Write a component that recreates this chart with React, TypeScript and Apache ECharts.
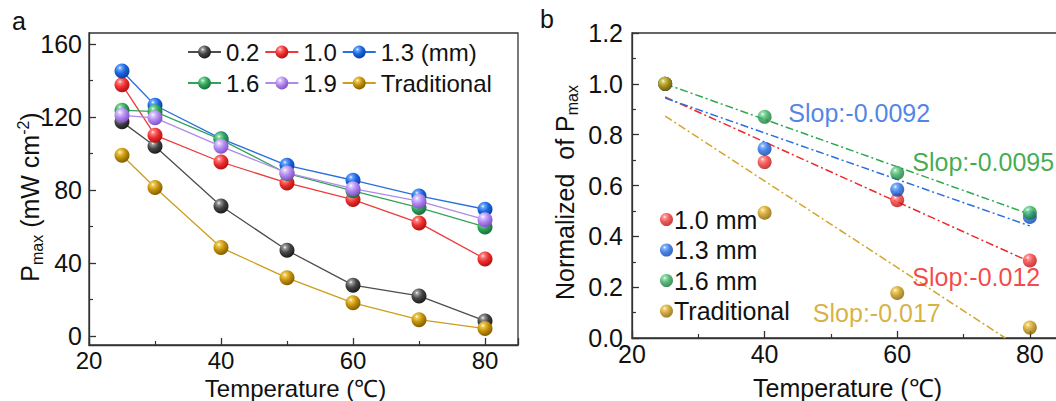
import React, { useEffect, useRef } from 'react';
import * as echarts from 'echarts';

// ---------- Panel a data ----------
const tempA = [25, 30, 40, 50, 60, 70, 80];
const namesA = ['0.2', '1.0', '1.3 (mm)', '1.6', '1.9', 'Traditional'];
const pmax02 = [117.3, 103.9, 71.2, 46.9, 27.8, 21.9, 8.2];
const pmax10 = [137.7, 110.0, 95.3, 83.8, 74.7, 61.9, 42.2];
const pmax13 = [145.2, 126.4, 108.1, 93.5, 85.3, 76.7, 69.4];
const pmax16 = [123.7, 122.9, 107.6, 89.0, 79.5, 70.3, 59.7];
const pmax19 = [120.9, 119.5, 103.9, 89.3, 80.7, 73.8, 63.7];
const pmaxTrad = [99.0, 81.3, 48.4, 31.8, 18.1, 8.9, 4.0];
const yTicksA = [0, 40, 80, 120, 160];
const yMinorTicksA = [20, 60, 100, 140];

// ---------- Panel b data ----------
const tempB = [25, 40, 60, 80];
const namesB = ['1.0 mm', '1.3 mm', '1.6 mm', 'Traditional '];
const norm10 = [1.0, 0.692, 0.542, 0.305];
const norm13 = [1.0, 0.745, 0.584, 0.476];
const norm16 = [1.0, 0.87, 0.649, 0.493];
const normTrad = [1.0, 0.493, 0.177, 0.041];
const fitX = [25, 80];
const fit10 = [0.948, 0.3];
const fit13 = [0.944, 0.441];
const fit16 = [1.0, 0.487];
const fitTradX = [25, 76.3];
const fitTrad = [0.873, 0];
const slopeText = ['Slop:-0.0092', 'Slop:-0.0095', 'Slop:-0.012', 'Slop:-0.017'];
const slopeX = [43.5, 62.2, 62.2, 47.2];
const slopeY = [0.884, 0.691, 0.239, 0.097];

// ---------- styles ----------
const FONT = 'Liberation Sans, Arial, Helvetica, sans-serif';
const FS = 25;
const TXT = '#111111';
const AX = '#333333';

type Pal = { base: string; light: string; dark: string; line: string };
const palGray: Pal = { base: '#444444', light: '#999999', dark: '#1a1a1a', line: '#4d4d4d' };
const palRed: Pal = { base: '#ee3030', light: '#ff8080', dark: '#b01010', line: '#ec3b3b' };
const palBlue: Pal = { base: '#1a66e0', light: '#6aa6ff', dark: '#0a3fa0', line: '#2a6fdc' };
const palGreen: Pal = { base: '#2fa458', light: '#7ad898', dark: '#176f36', line: '#34a35a' };
const palPurple: Pal = { base: '#b088ee', light: '#dcc6ff', dark: '#8050c8', line: '#b08ae8' };
const palGold: Pal = { base: '#c4920a', light: '#f0c850', dark: '#805c00', line: '#cf9d1a' };
const palA = [palGray, palRed, palBlue, palGreen, palPurple, palGold];
const palB = [palRed, palBlue, palGreen, palGold];
const fitColors = ['#ee2a2a', '#2b6fe0', '#2fa84f', '#d4a52a'];
const slopeColors = ['#1f66e0', '#12961f', '#f01818', '#cc9e10'];

function ball(p: Pal) {
  return new echarts.graphic.RadialGradient(0.36, 0.3, 0.72, [
    { offset: 0, color: '#ffffff' },
    { offset: 0.16, color: p.light },
    { offset: 0.52, color: p.base },
    { offset: 1, color: p.dark },
  ]);
}

export default function App() {
  const ref = useRef<HTMLDivElement>(null);
  useEffect(() => {
    if (!ref.current) return;
    const chart = echarts.init(ref.current, undefined, { renderer: 'svg' });
    const valsA = [pmax02, pmax10, pmax13, pmax16, pmax19, pmaxTrad];
    const valsB = [norm10, norm13, norm16, normTrad];
    const fits = [
      { x: fitX, y: fit10 },
      { x: fitX, y: fit13 },
      { x: fitX, y: fit16 },
      { x: fitTradX, y: fitTrad },
    ];

    const tickLabel = { fontSize: FS, lineHeight: 22, color: TXT, fontFamily: FONT, showMaxLabel: false };
    const axisLine = { show: true, onZero: false, lineStyle: { color: AX, width: 1.3 } };

    const seriesA = namesA.map((n, i) => ({
      type: 'line',
      name: n,
      xAxisIndex: 0,
      yAxisIndex: 0,
      data: tempA.map((t, k) => [t, valsA[i][k]]),
      symbol: 'circle',
      symbolSize: 15,
      lineStyle: { color: palA[i].line, width: 1.3 },
      itemStyle: { color: ball(palA[i]) },
      z: 3 + i,
    }));

    const fitSeries = fits.map((f, i) => ({
      type: 'line',
      name: 'fit' + i,
      xAxisIndex: 1,
      yAxisIndex: 2,
      data: f.x.map((x, k) => [x, f.y[k]]),
      symbol: 'none',
      silent: true,
      lineStyle: { color: fitColors[i], width: 1.5, type: [8, 3, 2, 3] },
      z: 2,
    }));

    const seriesB = namesB.map((n, i) => ({
      type: 'scatter',
      name: n,
      xAxisIndex: 1,
      yAxisIndex: 2,
      data: tempB.map((t, k) => [t, valsB[i][k]]),
      symbol: 'circle',
      symbolSize: 14,
      itemStyle: { color: ball(palB[i]) },
      z: 4 + i,
    }));

    const slopeSeries = {
      type: 'scatter',
      name: 'slopes',
      xAxisIndex: 1,
      yAxisIndex: 2,
      silent: true,
      symbolSize: 1,
      itemStyle: { color: 'rgba(0,0,0,0)' },
      data: slopeX.map((x, i) => ({
        value: [x, slopeY[i]],
        label: {
          show: true,
          position: 'right',
          distance: 0,
          formatter: slopeText[i],
          color: slopeColors[i],
          fontSize: FS,
          fontFamily: FONT,
        },
      })),
      z: 10,
    };

    const option: any = {
      animation: false,
      textStyle: { fontFamily: FONT },
      grid: [
        { left: 89, top: 33, width: 429, height: 312, outerBoundsMode: 'none', containLabel: false, show: true, borderColor: AX, borderWidth: 1.3, backgroundColor: 'transparent' },
        { left: 632, top: 33, width: 431, height: 305, outerBoundsMode: 'none', containLabel: false, show: true, borderColor: AX, borderWidth: 1.3, backgroundColor: 'transparent' },
      ],
      xAxis: [
        {
          type: 'value', gridIndex: 0, min: 20, max: 85, interval: 20,
          axisLine, splitLine: { show: false },
          axisTick: { show: true, inside: true, length: 7, lineStyle: { color: AX, width: 1.3 } },
          minorTick: { show: true, splitNumber: 2, length: 4, lineStyle: { color: AX, width: 1.2 } },
          axisLabel: { ...tickLabel, fontSize: 24, margin: 4 },
          name: 'Temperature (℃)', nameLocation: 'middle', nameGap: 32, nameMoveOverlap: false,
          nameTextStyle: { fontSize: 24, lineHeight: 22, color: TXT, fontFamily: FONT, padding: [0, 16, 0, 0] },
        },
        {
          type: 'value', gridIndex: 1, min: 20, max: 85, interval: 20,
          axisLine, splitLine: { show: false },
          axisTick: { show: true, inside: true, length: 7, lineStyle: { color: AX, width: 1.3 } },
          minorTick: { show: true, splitNumber: 2, length: 4, lineStyle: { color: AX, width: 1.2 } },
          axisLabel: { ...tickLabel, margin: 5 },
          name: 'Temperature (℃)', nameLocation: 'middle', nameGap: 39, nameMoveOverlap: false,
          nameTextStyle: { fontSize: FS, lineHeight: 22, color: TXT, fontFamily: FONT },
        },
      ],
      yAxis: [
        {
          type: 'value', gridIndex: 0, position: 'left', min: -5, max: 166,
          axisLine, splitLine: { show: false },
          axisTick: { show: true, inside: true, length: 7, customValues: yTicksA, lineStyle: { color: AX, width: 1.3 } },
          axisLabel: { fontSize: FS, color: TXT, fontFamily: FONT, margin: 7, customValues: yTicksA },
          name: '{n|P}{s|max}{n| (mW cm}{p|-2}{n|)}',
          nameLocation: 'middle', nameGap: 44, nameRotate: 90, nameMoveOverlap: false,
          nameTextStyle: {
            fontSize: FS, color: TXT, fontFamily: FONT, padding: [0, 16, 0, 0],
            rich: {
              n: { fontSize: FS, lineHeight: 30, color: TXT, fontFamily: FONT },
              s: { fontSize: 16, lineHeight: 16, verticalAlign: 'bottom', color: TXT, fontFamily: FONT },
              p: { fontSize: 16, lineHeight: 16, verticalAlign: 'top', color: TXT, fontFamily: FONT },
            },
          },
        },
        {
          type: 'value', gridIndex: 0, position: 'left', min: -5, max: 166,
          axisLine: { show: false, onZero: false }, splitLine: { show: false },
          axisTick: { show: true, inside: true, length: 4, customValues: yMinorTicksA, lineStyle: { color: AX, width: 1.2 } },
          axisLabel: { show: false },
        },
        {
          type: 'value', gridIndex: 1, position: 'left', min: 0, max: 1.2, interval: 0.2,
          axisLine, splitLine: { show: false },
          axisTick: { show: true, inside: true, length: 7, lineStyle: { color: AX, width: 1.3 } },
          minorTick: { show: true, splitNumber: 2, length: 4, lineStyle: { color: AX, width: 1.2 } },
          axisLabel: { fontSize: FS, color: TXT, fontFamily: FONT, margin: 9, formatter: (v: number) => v.toFixed(1) },
          name: '{n|Normalized  of P}{s|max}',
          nameLocation: 'middle', nameGap: 52, nameRotate: 90, nameMoveOverlap: false,
          nameTextStyle: {
            fontSize: FS, color: TXT, fontFamily: FONT, padding: [0, 14, 0, 0],
            rich: {
              n: { fontSize: FS, lineHeight: 30, color: TXT, fontFamily: FONT },
              s: { fontSize: 16, lineHeight: 16, verticalAlign: 'bottom', color: TXT, fontFamily: FONT },
            },
          },
        },
      ],
      legend: [
        {
          data: namesA.slice(0, 3), left: 187, top: 40, orient: 'horizontal', padding: 0,
          itemWidth: 33, itemHeight: 16, itemGap: 5, selectedMode: false,
          textStyle: { fontSize: 24, color: TXT, fontFamily: FONT },
        },
        {
          data: namesA.slice(3), left: 187, top: 71, orient: 'horizontal', padding: 0,
          itemWidth: 33, itemHeight: 16, itemGap: 5, selectedMode: false,
          textStyle: { fontSize: 24, color: TXT, fontFamily: FONT },
        },
        {
          data: namesB, left: 660, top: 207, orient: 'vertical', padding: 0,
          itemWidth: 13, itemHeight: 13, itemGap: 5.5, selectedMode: false,
          textStyle: { fontSize: FS, color: TXT, fontFamily: FONT, padding: [0, 0, 0, -4] },
        },
      ],
      graphic: [
        { type: 'text', left: 12, top: 8, style: { text: 'a', fontSize: FS, fill: TXT, fontFamily: FONT } },
        { type: 'text', left: 540, top: 6, style: { text: 'b', fontSize: FS, fill: TXT, fontFamily: FONT } },
      ],
      series: [...seriesA, ...fitSeries, ...seriesB, slopeSeries],
    };
    chart.setOption(option);
    return () => chart.dispose();
  }, []);
  return (
    <div
      ref={ref}
      style={{ position: 'absolute', left: 0, top: 0, width: 1056, height: 401, background: '#ffffff' }}
    />
  );
}
